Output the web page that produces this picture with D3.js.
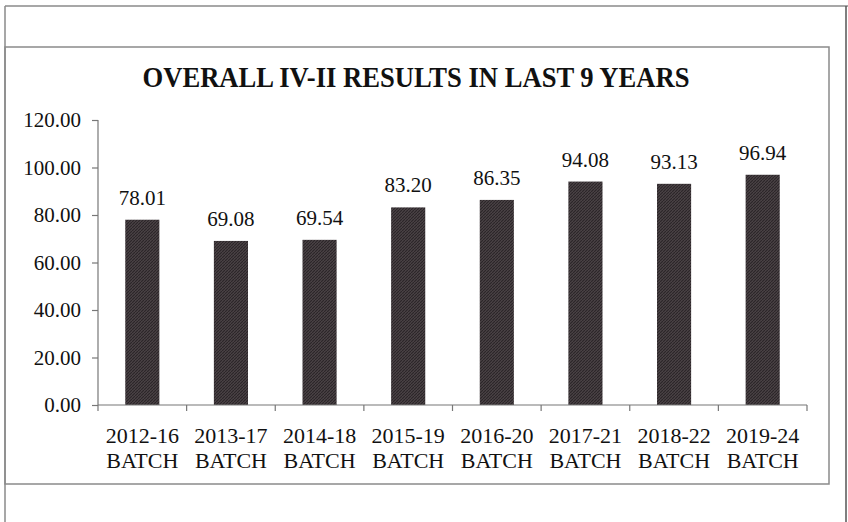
<!DOCTYPE html>
<html><head><meta charset="utf-8">
<script src="https://cdn.jsdelivr.net/npm/d3@7"></script>
<style>html,body{margin:0;padding:0;background:#fff;}svg{display:block;}</style>
</head><body>
<script>
const title = "OVERALL IV-II RESULTS IN LAST 9 YEARS";
const categories = ["2012-16","2013-17","2014-18","2015-19","2016-20","2017-21","2018-22","2019-24"];
const categorySuffix = "BATCH";
const values = [78.01, 69.08, 69.54, 83.20, 86.35, 94.08, 93.13, 96.94];
const yTicks = [0, 20, 40, 60, 80, 100, 120];

const W = 848, H = 522;
const svg = d3.select("body").append("svg").attr("width", W).attr("height", H);
const font = "'Liberation Serif','Times New Roman',serif";

// pattern for the scanned hatch look
const defs = svg.append("defs");
const pat = defs.append("pattern").attr("id","hatch").attr("patternUnits","userSpaceOnUse")
  .attr("width",3).attr("height",3);
pat.append("rect").attr("width",3).attr("height",3).attr("fill","#4a4245");
pat.append("path").attr("d","M0,3 L3,0").attr("stroke","#2a2427").attr("stroke-width",1.1);

// frames
const frame = "#8a8a8a";
svg.append("line").attr("x1",5).attr("y1",6).attr("x2",848).attr("y2",6).attr("stroke",frame).attr("stroke-width",1.5);
svg.append("line").attr("x1",5).attr("y1",6).attr("x2",5).attr("y2",522).attr("stroke",frame).attr("stroke-width",1.5);
svg.append("line").attr("x1",846).attr("y1",6).attr("x2",846).attr("y2",522).attr("stroke","#555").attr("stroke-width",1.5);
svg.append("rect").attr("x",5).attr("y",47).attr("width",824).attr("height",437)
  .attr("fill","none").attr("stroke",frame).attr("stroke-width",1.5);

const x = d3.scaleBand().domain(categories).range([98, 807]).paddingInner(0.615).paddingOuter(0.3075);
const y = d3.scaleLinear().domain([0,120]).range([405,120]);

// title
svg.append("text").attr("x",416).attr("y",87).attr("text-anchor","middle")
  .attr("font-family",font).attr("font-weight","bold").attr("font-size",29)
  .attr("textLength",547).attr("lengthAdjust","spacingAndGlyphs")
  .attr("fill","#111").text(title);

// y axis
const yAxis = svg.append("g").attr("transform","translate(98,0)")
  .call(d3.axisLeft(y).tickValues(yTicks).tickFormat(d3.format(".2f")).tickSize(6).tickPadding(11));
yAxis.selectAll("path,line").attr("stroke","#777").attr("stroke-width",1.2);
yAxis.selectAll("text").attr("font-family",font).attr("font-size",21).attr("fill","#111");
yAxis.select(".domain").attr("d","M0,120V405");

// bars
svg.append("g").selectAll("rect").data(values).join("rect")
  .attr("x",(d,i)=>x(categories[i])).attr("width",x.bandwidth())
  .attr("y",d=>y(d)).attr("height",d=>y(0)-y(d))
  .attr("fill","url(#hatch)");

// value labels
svg.append("g").selectAll("text").data(values).join("text")
  .attr("x",(d,i)=>x(categories[i])+x.bandwidth()/2).attr("y",d=>y(d)-15)
  .attr("text-anchor","middle").attr("font-family",font).attr("font-size",21).attr("fill","#111")
  .text(d=>d.toFixed(2));

// x axis
const step = x.step();
const xAxis = svg.append("g").attr("transform","translate(0,405)");
xAxis.append("line").attr("x1",98).attr("x2",807).attr("stroke","#777").attr("stroke-width",1.2);
xAxis.selectAll("line.tk").data(d3.range(categories.length+1)).join("line").attr("class","tk")
  .attr("x1",i=>98+i*step).attr("x2",i=>98+i*step).attr("y1",0).attr("y2",6)
  .attr("stroke","#777").attr("stroke-width",1.2);
const cl = xAxis.selectAll("text").data(categories).join("text")
  .attr("text-anchor","middle").attr("font-family",font).attr("font-size",22).attr("fill","#111");
cl.append("tspan").attr("x",d=>x(d)+x.bandwidth()/2).attr("y",38).text(d=>d);
cl.append("tspan").attr("x",d=>x(d)+x.bandwidth()/2).attr("y",63).text(categorySuffix);
</script>
</body></html>
